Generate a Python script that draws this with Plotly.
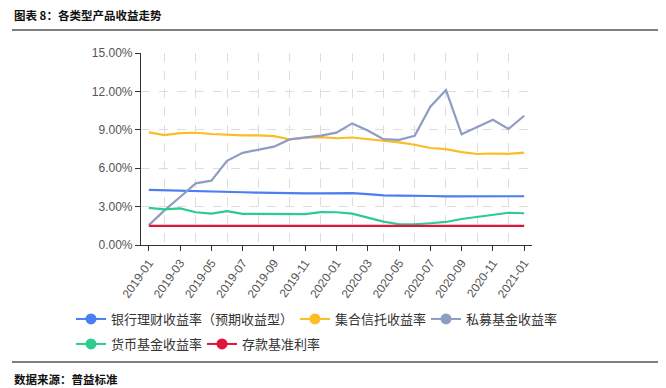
import plotly.graph_objects as go

months = ['2019-01', '2019-02', '2019-03', '2019-04', '2019-05', '2019-06', '2019-07',
          '2019-08', '2019-09', '2019-10', '2019-11', '2019-12', '2020-01', '2020-02',
          '2020-03', '2020-04', '2020-05', '2020-06', '2020-07', '2020-08', '2020-09',
          '2020-10', '2020-11', '2020-12', '2021-01']

bank_wmp = [4.30, 4.28, 4.25, 4.21, 4.16, 4.14, 4.12, 4.09, 4.06, 4.03, 4.03, 4.04, 4.05,
            4.05, 3.97, 3.88, 3.86, 3.86, 3.83, 3.80, 3.80, 3.80, 3.80, 3.81, 3.81]
trust = [8.80, 8.59, 8.74, 8.77, 8.67, 8.61, 8.56, 8.56, 8.50, 8.25, 8.38, 8.42, 8.34,
         8.40, 8.27, 8.10, 8.02, 7.83, 7.58, 7.49, 7.25, 7.11, 7.15, 7.12, 7.22]
private_fund = [1.55, 2.70, 3.75, 4.82, 5.03, 6.58, 7.20, 7.44, 7.68, 8.25, 8.40, 8.55, 8.78,
                9.50, 8.95, 8.27, 8.22, 8.54, 10.80, 12.10, 8.65, 9.21, 9.78, 9.07, 10.10]
money_fund = [2.90, 2.79, 2.86, 2.56, 2.45, 2.64, 2.43, 2.42, 2.45, 2.41, 2.41, 2.57, 2.56,
              2.45, 2.15, 1.83, 1.62, 1.62, 1.70, 1.80, 2.03, 2.20, 2.33, 2.52, 2.48]
deposit_rate = [1.5, 1.5, 1.5, 1.5, 1.5, 1.5, 1.5, 1.5, 1.5, 1.5, 1.5, 1.5, 1.5,
                1.5, 1.5, 1.5, 1.5, 1.5, 1.5, 1.5, 1.5, 1.5, 1.5, 1.5, 1.5]

series_names = ['银行理财收益率（预期收益型）', '集合信托收益率', '私募基金收益率',
                '货币基金收益率', '存款基准利率']
series_values = [bank_wmp, trust, private_fund, money_fund, deposit_rate]
colors = ['#4b7ef0', '#fbbd24', '#8f9cc3', '#2ecb8e', '#e0143c']

y_ticks = [0, 3, 6, 9, 12, 15]
y_tick_text = ['0.00%', '3.00%', '6.00%', '9.00%', '12.00%', '15.00%']

title_text = '图表 8：各类型产品收益走势'
source_text = '数据来源：普益标准'

# page body has an 8px margin: figure is drawn offset by (8, 8)
OFF = 8
W, H = 658, 380
L, T = 141 - OFF, 53 - OFF
R = W - (532 - OFF)
B = H - (245 - OFF)
pw, ph = W - L - R, H - T - B


def px_x(p):
    return (p - OFF - L) / pw


def px_y(p):
    return (H - B - (p - OFF)) / ph


idx = list(range(len(months)))
fig = go.Figure()

for name, vals, col in zip(series_names, series_values, colors):
    fig.add_trace(go.Scatter(x=idx, y=vals, mode='lines', name=name,
                             line=dict(color=col, width=2.2), showlegend=False,
                             hovertemplate='%{y:.2f}%<extra>' + name + '</extra>'))

legend_pos = [(71, 319), (295, 319), (426, 319), (71, 344), (202, 344)]
legend_keys = ['legend', 'legend2', 'legend3', 'legend4', 'legend5']
for name, col, key in zip(series_names, colors, legend_keys):
    fig.add_trace(go.Scatter(x=[None], y=[None], mode='lines+markers', name=name,
                             line=dict(color=col, width=2),
                             marker=dict(color=col, size=11, symbol='circle'),
                             legend=key, showlegend=True))

layout_legends = {}
for (lx, ly), key in zip(legend_pos, legend_keys):
    layout_legends[key] = dict(x=px_x(lx), y=px_y(ly), xanchor='left', yanchor='middle',
                               orientation='h', bgcolor='rgba(0,0,0,0)', borderwidth=0,
                               font=dict(family='Noto Sans CJK SC', size=13, color='#333333'))

fig.update_layout(
    width=W, height=H, autosize=False,
    margin=dict(l=L, r=R, t=T, b=B, autoexpand=False),
    paper_bgcolor='white', plot_bgcolor='white',
    showlegend=True,
    **layout_legends,
)

fig.update_xaxes(
    range=[-0.5, len(months) - 0.5],
    tickvals=idx[::2], ticktext=months[::2],
    tickangle=-55,
    tickfont=dict(family='Liberation Sans, Arial, sans-serif', size=12, color='#555555'),
    showgrid=False, zeroline=False,
    showline=True, linecolor='#333333', linewidth=1.2,
    ticks='outside', ticklen=5, tickcolor='#333333', tickwidth=1.2,
    minor=dict(tick0=1, dtick=2, showgrid=True, gridcolor='#dddddd', griddash='dash',
               gridwidth=1, ticks=''),
)
fig.update_yaxes(
    range=[0, 15],
    tickvals=y_ticks, ticktext=y_tick_text,
    tickfont=dict(family='Liberation Sans, Arial, sans-serif', size=12, color='#555555'),
    showgrid=True, gridcolor='#dddddd', griddash='dash', gridwidth=1,
    zeroline=False,
    showline=True, linecolor='#333333', linewidth=1.2,
    ticks='outside', ticklen=5, tickcolor='#333333', tickwidth=1.2,
)

fig.add_shape(type='line', xref='paper', yref='paper', x0=px_x(12), x1=px_x(660),
              y0=px_y(30), y1=px_y(30), line=dict(color='#000000', width=1.2))
fig.add_shape(type='line', xref='paper', yref='paper', x0=px_x(12), x1=px_x(660),
              y0=px_y(362), y1=px_y(362), line=dict(color='#000000', width=1.2))

fig.add_annotation(text='<b>' + title_text + '</b>', xref='paper', yref='paper',
                   x=px_x(12), y=px_y(15), xanchor='left', yanchor='middle', showarrow=False,
                   font=dict(family='Noto Sans CJK SC', size=11.5, color='#111111'))
fig.add_annotation(text='<b>' + source_text + '</b>', xref='paper', yref='paper',
                   x=px_x(12), y=px_y(379), xanchor='left', yanchor='middle', showarrow=False,
                   font=dict(family='Noto Sans CJK SC', size=11.5, color='#111111'))

fig.write_html('out.html')
